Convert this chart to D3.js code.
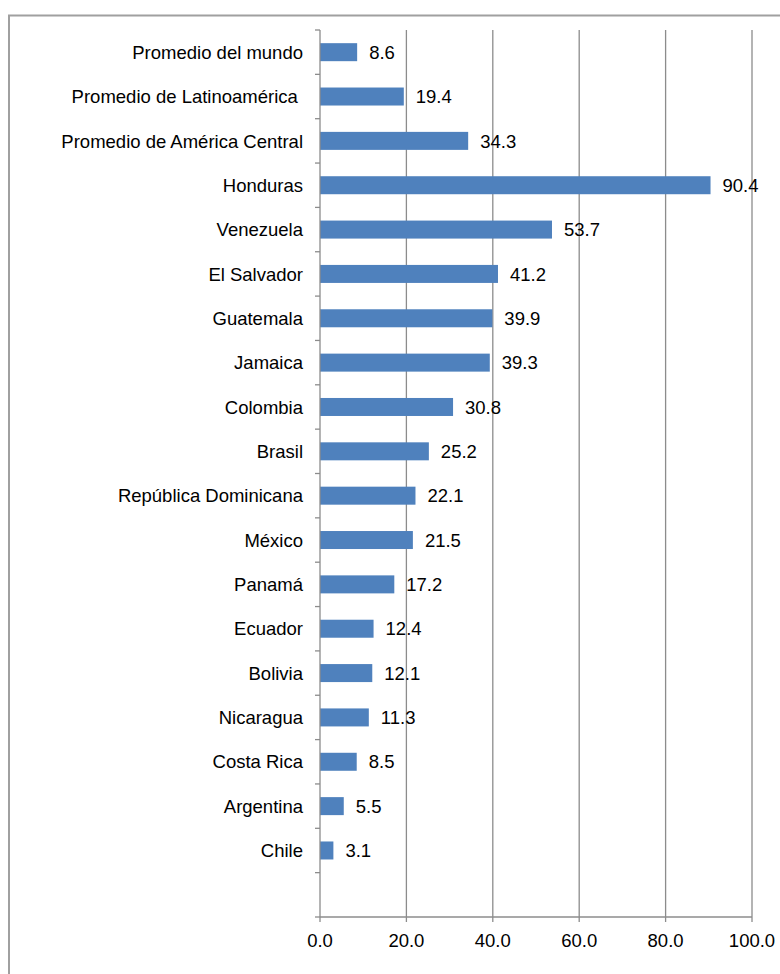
<!DOCTYPE html>
<html>
<head>
<meta charset="utf-8">
<script src="https://cdn.jsdelivr.net/npm/d3@7"></script>
<style>
  body { margin: 0; background: #fff; }
  text { font-family: "Liberation Sans", Arial, sans-serif; fill: #000; }
</style>
</head>
<body>
<div id="viz"></div>
<script>
// countries, top to bottom (last one is the empty slot Excel leaves at the bottom)
let categories = ["Promedio del mundo", "Promedio de Latinoamérica ", "Promedio de América Central",
    "Honduras", "Venezuela", "El Salvador", "Guatemala", "Jamaica", "Colombia", "Brasil",
    "República Dominicana", "México", "Panamá", "Ecuador", "Bolivia", "Nicaragua",
    "Costa Rica", "Argentina", "Chile", ""];
let values = [8.6, 19.4, 34.3, 90.4, 53.7, 41.2, 39.9, 39.3, 30.8, 25.2,
    22.1, 21.5, 17.2, 12.4, 12.1, 11.3, 8.5, 5.5, 3.1, null];
let x_ticks = [0, 20, 40, 60, 80, 100];

let width = 780, height = 974;
let bar_colour = "#4F81BD";
let grid_colour = "#8c8c8c";
let font_size = "18.5px";

let svg = d3.select("#viz")
    .append("svg")
    .attr("width", width)
    .attr("height", height);

// outer frame of the chart area (runs off right and bottom)
svg.append("rect")
    .attr("x", 9)
    .attr("y", 15.5)
    .attr("width", 800)
    .attr("height", 1000)
    .attr("fill", "none")
    .attr("stroke", "#a0a0a0")
    .attr("stroke-width", 2);

let x_scale = d3.scaleLinear().domain([0, 100]).range([320, 752]);
let y_band = d3.scaleBand().domain(d3.range(categories.length)).range([30, 917]);

// vertical gridlines
svg.selectAll(".grid")
    .data(x_ticks.slice(1))
    .enter()
    .append("line")
    .attr("x1", d => x_scale(d))
    .attr("x2", d => x_scale(d))
    .attr("y1", 30)
    .attr("y2", 917)
    .attr("stroke", grid_colour)
    .attr("stroke-width", 1.3);

// bars
let rows = categories.map((c, i) => ({id: i, label: c, value: values[i]})).filter(d => d.value !== null);

svg.selectAll(".bar")
    .data(rows)
    .enter()
    .append("rect")
    .attr("class", "bar")
    .attr("x", x_scale(0))
    .attr("y", d => y_band(d.id) + y_band.bandwidth()/2 - 9)
    .attr("width", d => x_scale(d.value) - x_scale(0))
    .attr("height", 18)
    .attr("fill", bar_colour);

// value labels
svg.selectAll(".val")
    .data(rows)
    .enter()
    .append("text")
    .attr("x", d => x_scale(d.value) + 12)
    .attr("y", d => y_band(d.id) + y_band.bandwidth()/2)
    .attr("dy", "0.36em")
    .style("font-size", font_size)
    .text(d => d.value.toFixed(1));

// y axis line and ticks
svg.append("line")
    .attr("x1", x_scale(0)).attr("x2", x_scale(0))
    .attr("y1", 30).attr("y2", 917)
    .attr("stroke", grid_colour).attr("stroke-width", 1.3);

let tick_ys = d3.range(categories.length + 1).map(i => 30 + i * y_band.step());
svg.selectAll(".ytick")
    .data(tick_ys)
    .enter()
    .append("line")
    .attr("x1", x_scale(0) - 5).attr("x2", x_scale(0))
    .attr("y1", d => d).attr("y2", d => d)
    .attr("stroke", grid_colour).attr("stroke-width", 1.3);

// category labels
svg.selectAll(".cat")
    .data(rows)
    .enter()
    .append("text")
    .attr("x", x_scale(0) - 17)
    .attr("y", d => y_band(d.id) + y_band.bandwidth()/2)
    .attr("dy", "0.36em")
    .attr("text-anchor", "end")
    .style("font-size", font_size)
    .style("white-space", "pre")
    .text(d => d.label);

// x axis
svg.append("line")
    .attr("x1", x_scale(0)).attr("x2", x_scale(100))
    .attr("y1", 917).attr("y2", 917)
    .attr("stroke", grid_colour).attr("stroke-width", 1.3);

svg.selectAll(".xtick")
    .data(x_ticks)
    .enter()
    .append("line")
    .attr("x1", d => x_scale(d)).attr("x2", d => x_scale(d))
    .attr("y1", 917).attr("y2", 922)
    .attr("stroke", grid_colour).attr("stroke-width", 1.3);

svg.selectAll(".xlab")
    .data(x_ticks)
    .enter()
    .append("text")
    .attr("x", d => x_scale(d))
    .attr("y", 947)
    .attr("text-anchor", "middle")
    .style("font-size", font_size)
    .text(d => d.toFixed(1));
</script>
</body>
</html>
